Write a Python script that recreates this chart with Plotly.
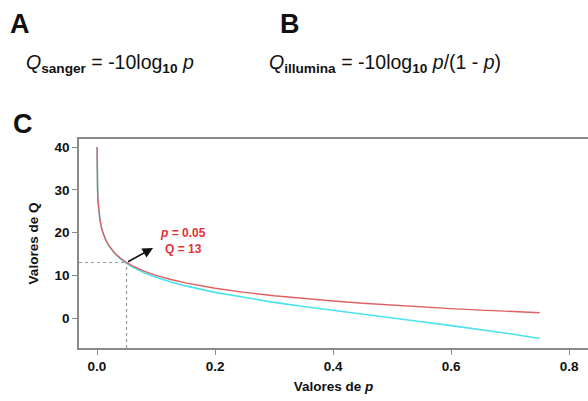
import plotly.graph_objects as go

# Data
p_vals = [0.0001, 0.0002, 0.0005, 0.001, 0.002, 0.003, 0.005, 0.0075, 0.01, 0.015,
          0.02, 0.03, 0.04, 0.05, 0.06, 0.08, 0.1, 0.125, 0.15, 0.2,
          0.25, 0.3, 0.35, 0.4, 0.45, 0.5, 0.55, 0.6, 0.65, 0.7, 0.75]
q_sanger = [40.0, 36.99, 33.01, 30.0, 26.99, 25.23, 23.01, 21.25, 20.0, 18.24,
            16.99, 15.23, 13.98, 13.01, 12.22, 10.97, 10.0, 9.03, 8.24, 6.99,
            6.02, 5.23, 4.56, 3.98, 3.47, 3.01, 2.60, 2.22, 1.87, 1.55, 1.25]
q_illumina = [40.0, 36.99, 33.01, 30.0, 26.98, 25.21, 22.99, 21.22, 19.96, 18.17,
              16.90, 15.10, 13.80, 12.79, 11.95, 10.61, 9.54, 8.45, 7.53, 6.02,
              4.77, 3.68, 2.69, 1.76, 0.87, 0.0, -0.87, -1.76, -2.69, -3.68, -4.77]
mark_p = 0.05
mark_q = 13
x_ticks = [0.0, 0.2, 0.4, 0.6, 0.8]
x_ticklabels = ["0.0", "0.2", "0.4", "0.6", "0.8"]
y_ticks = [0, 10, 20, 30, 40]

FONT = "Liberation Sans, Arial, sans-serif"
AXC = "#8a8a8a"
RED = "#e06060"
CYAN = "#48e4ec"

W, H = 588, 401
ML, MR, MT, MB = 79, 0, 139, 53
PW, PH = W - ML - MR, H - MT - MB
XR = [-0.0305, 0.832]
YR = [-7.0, 41.9]


def px2paper(px, py):
    return (px - ML) / PW, (H - MB - py) / PH


fig = go.Figure()
fig.add_trace(go.Scatter(x=p_vals, y=q_illumina, mode="lines",
                         line=dict(color=CYAN, width=1.6), hoverinfo="skip"))
fig.add_trace(go.Scatter(x=p_vals, y=q_sanger, mode="lines",
                         line=dict(color=RED, width=1.4), hoverinfo="skip"))

# dotted guide lines
fig.add_shape(type="line", xref="x", yref="y", x0=XR[0], x1=mark_p, y0=mark_q, y1=mark_q,
              line=dict(color="#999999", width=1.2, dash="dot"))
fig.add_shape(type="line", xref="x", yref="y", x0=mark_p, x1=mark_p, y0=YR[0], y1=mark_q,
              line=dict(color="#999999", width=1.2, dash="dot"))

# arrow
fig.add_annotation(x=0.095, y=16.4, ax=mark_p, ay=mark_q, axref="x", ayref="y",
                   xref="x", yref="y", text="", showarrow=True,
                   arrowhead=2, arrowsize=1.3, arrowwidth=1.6, arrowcolor="#111111")
fig.add_annotation(x=0.146, y=18.0, xref="x", yref="y",
                   text="<b><i>p</i> = %.2f<br>Q = %d</b>" % (mark_p, mark_q), showarrow=False,
                   font=dict(family=FONT, size=12, color="#e8303a"), align="center")

# panel letters and formulas
letters = [("<b>A</b>", 8, 24), ("<b>B</b>", 278, 24), ("<b>C</b>", 11, 124)]
for txt, px, py in letters:
    xp, yp = px2paper(px, py)
    fig.add_annotation(x=xp, y=yp, xref="paper", yref="paper",
                       xanchor="left", yanchor="middle", text=txt, showarrow=False,
                       font=dict(family=FONT, size=27, color="#111111"))

formulas = [("<i>Q</i><sub><b>sanger</b></sub> = -10log<sub><b>10</b></sub> <i>p</i>", 24, 63),
            ("<i>Q</i><sub><b>illumina</b></sub> = -10log<sub><b>10</b></sub> <i>p</i>/(1 - <i>p</i>)", 267, 63)]
for txt, px, py in formulas:
    xp, yp = px2paper(px, py)
    fig.add_annotation(x=xp, y=yp, xref="paper", yref="paper",
                       xanchor="left", yanchor="middle", text=txt, showarrow=False,
                       font=dict(family=FONT, size=19.5, color="#111111"))

fig.update_layout(
    width=W, height=H,
    margin=dict(l=ML, r=MR, t=MT, b=MB),
    paper_bgcolor="white", plot_bgcolor="white",
    showlegend=False,
    font=dict(family=FONT, color="#111111"),
    xaxis=dict(range=XR, tickvals=x_ticks, ticktext=x_ticklabels,
               showgrid=False, zeroline=False, showline=True, linecolor=AXC, linewidth=1.5,
               mirror=True, ticks="outside", ticklen=5, tickcolor=AXC, tickwidth=1.2,
               tickfont=dict(family=FONT, size=13.5, color="#111111", weight="bold"),
               title=dict(text="<b>Valores de <i>p</i></b>", font=dict(family=FONT, size=13.5),
                          standoff=9)),
    yaxis=dict(range=YR, tickvals=y_ticks,
               showgrid=False, zeroline=False, showline=True, linecolor=AXC, linewidth=1.5,
               ticks="outside", ticklen=5, tickcolor=AXC, tickwidth=1.2,
               tickfont=dict(family=FONT, size=13.5, color="#111111", weight="bold"),
               title=dict(text="<b>Valores de Q</b>", font=dict(family=FONT, size=13.5),
                          standoff=13)),
)

fig.write_html("out.html")
